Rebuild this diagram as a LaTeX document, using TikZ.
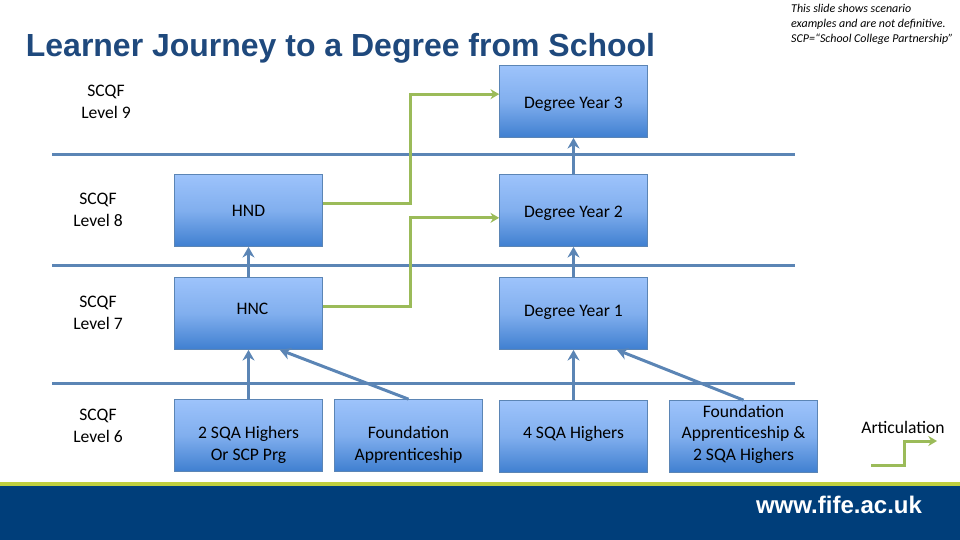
\documentclass[tikz,border=0pt]{standalone}
\usepackage{fontspec}
\setmainfont{Carlito}
\newfontfamily\titlefont{Liberation Sans}
\usetikzlibrary{arrows.meta}

\definecolor{rulecol}{HTML}{5B85B5}
\definecolor{greencol}{HTML}{9BBB59}
\definecolor{navycol}{HTML}{003E7A}
\definecolor{limecol}{HTML}{BFCF3F}
\definecolor{boxtop}{HTML}{9DC3FB}
\definecolor{boxbot}{HTML}{3F7FD0}
\definecolor{titlecol}{HTML}{1F497D}

% push a box text down or up from the middle of its box
\newcommand{\pushdown}[1]{\rule{0pt}{#1}}
\newcommand{\pushup}[1]{\rule[-#1]{0pt}{#1}}

\tikzset{
  levelbox/.style={draw=rulecol, line width=0.6pt, top color=boxtop, bottom color=boxbot,
    middle color=boxtop!70!boxbot, minimum width=4.44cm, minimum height=2.16cm, inner sep=0pt,
    align=center, font=\fontsize{15}{18.5}\selectfont},
  levellabel/.style={align=center, font=\fontsize{15}{18.5}\selectfont},
  rise/.style={draw=rulecol, line width=0.9mm, -{Stealth[length=3.2mm,width=3.6mm]}},
  artic/.style={draw=greencol, line width=0.9mm, -{Stealth[length=2.6mm,width=3mm]}},
  levelrule/.style={draw=rulecol, line width=0.9mm}
}

\begin{document}
\begin{tikzpicture}[x=0.03cm,y=-0.03cm]
\useasboundingbox (0,0) rectangle (960,540);

% Bottom band
\fill[navycol] (0,486) rectangle (960,540);
\fill[limecol] (0,482) rectangle (960,486);
\node[text=white, font=\titlefont\bfseries\fontsize{20.5}{24}\selectfont] (web) at (839,505) {www.fife.ac.uk};

% Title and note
\node[text=titlecol, font=\titlefont\bfseries\fontsize{27.3}{32}\selectfont] (title) at (340.5,48) {Learner Journey to a Degree from School};
\node[anchor=north west, align=left, inner sep=0pt, font=\itshape\fontsize{10.2}{12.6}\selectfont] (note) at (791,4)
  {This slide shows scenario\\examples and are not definitive.\\SCP=``School College Partnership''};

% Level rules
\foreach \y in {155,265,383} {
    \draw[levelrule] (52,\y) -- (795,\y);
}

% Level labels
\node[levellabel] (l9) at (106,102) {SCQF\\Level 9};
\node[levellabel] (l8) at (98,210) {SCQF\\Level 8};
\node[levellabel] (l7) at (98,313) {SCQF\\Level 7};
\node[levellabel] (l6) at (98,426) {SCQF\\Level 6};

% Boxes
\node[levelbox] (deg3) at (573.5,101.5) {\pushdown{14pt}Degree Year 3};
\node[levelbox] (deg2) at (573.5,210.5) {\pushdown{14pt}Degree Year 2};
\node[levelbox] (deg1) at (573.5,313.5) {\pushup{5pt}Degree Year 1};
\node[levelbox] (hnd) at (248.5,210.5) {HND};
\node[levelbox] (hnc) at (248.5,313.5) {\hspace*{0.24cm}\pushup{8.5pt}HNC};
\node[levelbox] (sqa) at (248.5,435.5) {\pushdown{26pt}2 SQA Highers\\Or SCP Prg};
\node[levelbox] (fa) at (408.5,435.5) {\pushdown{26pt}Foundation\\Apprenticeship};
\node[levelbox] (four) at (573.5,436.5) {\pushup{6.4pt}4 SQA Highers};
\node[levelbox] (fatwo) at (743.5,436.5) {Foundation\\Apprenticeship \&\\\pushup{6.4pt}2 SQA Highers};

% Progression arrows
\draw[rise] (sqa) -- (hnc);
\draw[rise] (hnc) -- (hnd);
\draw[rise] (four) -- (deg1);
\draw[rise] (deg1) -- (deg2);
\draw[rise] (deg2) -- (deg3);
\draw[rise] (fa.north) -- ([xshift=-1.29cm]hnc.south east);
\draw[rise] (fatwo.north) -- ([xshift=-0.93cm]deg1.south east);

% Articulation arrows
\draw[artic] ([yshift=0.2cm]hnd.east) -- ++(88,0) |- ([yshift=0.22cm]deg3.west);
\draw[artic] ([yshift=0.2cm]hnc.east) -- ++(88,0) |- ([yshift=-0.22cm]deg2.west);

% Legend
\node[levellabel] (legend) at (903,427) {Articulation};
\coordinate (keya) at (871,465);
\coordinate (keyb) at (937,441);
\draw[artic] (keya) -- ++(33,0) |- (keyb);

\end{tikzpicture}
\end{document}
